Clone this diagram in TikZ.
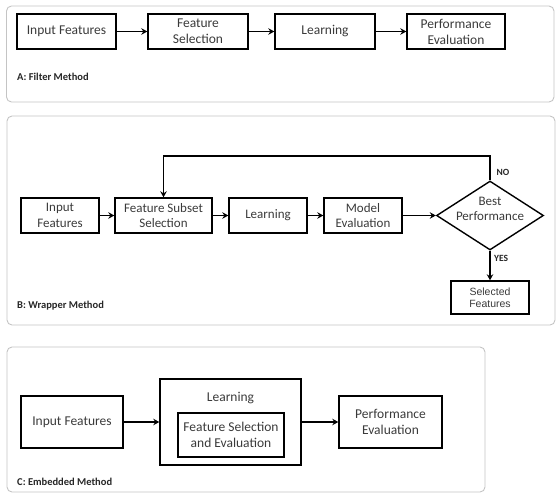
\documentclass[tikz,border=0pt]{standalone}
\usepackage{fontspec}
\setmainfont{Carlito}
\newfontfamily\arialf{Liberation Sans}
\usetikzlibrary{shapes.geometric,arrows.meta}
\definecolor{txt}{HTML}{3A3A3A}
\definecolor{panelc}{HTML}{C4C4C4}
\tikzset{
  panel/.style={draw=panelc,line width=0.9pt,rounded corners=5pt},
  box/.style={draw=black,line width=1.4pt,rectangle,align=center,text=txt,inner sep=0pt,font=\fontsize{13.5}{16}\selectfont},
  boxb/.style={box,font=\fontsize{13}{15.5}\selectfont},
  lab/.style={anchor=west,font=\fontsize{10.5}{12}\selectfont\bfseries,text=black!85,inner sep=0pt},
  yn/.style={anchor=west,font=\fontsize{9.5}{11}\selectfont\bfseries,text=black!85,inner sep=0pt},
  arr/.style={line width=1.4pt,-{Stealth[length=6pt,width=6.5pt,inset=2pt]}},
}
\begin{document}
\begin{tikzpicture}[x=1pt,y=-1pt]
\useasboundingbox (0,0) rectangle (559,501);
% panels
\draw[panel] (6.5,6) rectangle (554,102);
\draw[panel] (7,116) rectangle (555,325);
\draw[panel] (7,347) rectangle (485,492);

% Panel A
\node[box,minimum width=99pt,minimum height=35pt] (a1) at (66.5,31.5) {Input Features};
\node[box,minimum width=100pt,minimum height=35pt] (a2) at (198,31.5) {Feature\\Selection};
\node[box,minimum width=100pt,minimum height=35pt] (a3) at (325,31.5) {Learning};
\node[box,minimum width=98pt,minimum height=35pt] (a4) at (456,31.5) {Performance\\Evaluation};
\draw[arr] (a1) -- (a2);
\draw[arr] (a2) -- (a3);
\draw[arr] (a3) -- (a4);
\node[lab] (la) at (17,77) {A: Filter Method};

% Panel B
\node[boxb,minimum width=78pt,minimum height=35pt] (b1) at (60,215.5) {Input\\Features};
\node[boxb,minimum width=97pt,minimum height=35pt] (b2) at (163.5,215.5) {Feature Subset\\Selection};
\node[boxb,minimum width=78pt,minimum height=35pt] (b3) at (268,215.5) {Learning};
\node[boxb,minimum width=78pt,minimum height=35pt] (b4) at (363,215.5) {Model\\Evaluation};
\node[draw=black,line width=1.4pt,diamond,minimum width=107pt,minimum height=69pt,inner sep=0pt] (b5) at (490,215.5) {};
\node[align=center,text=txt,inner sep=0pt,font=\fontsize{13}{15}\selectfont] (b5t) at (490,208.5) {Best\\Performance};
\node[box,font=\arialf\fontsize{10.5}{12.5}\selectfont,minimum width=78pt,minimum height=33pt] (b6) at (490,297.5) {Selected\\Features};
\draw[arr] (b1) -- (b2);
\draw[arr] (b2) -- (b3);
\draw[arr] (b3) -- (b4);
\draw[arr] (b4) -- (b5);
\draw[arr] (b5) -- (b6);
\coordinate (fbR) at (490,156);
\coordinate (fbL) at (163.5,156);
\draw[arr] (b5.north) -- (fbR) -- (fbL) -- (b2.north);
\node[yn] (no) at (496.5,172) {NO};
\node[yn] (yes) at (494,258) {YES};
\node[lab] (lb) at (17,306) {B: Wrapper Method};

% Panel C
\node[box,minimum width=102pt,minimum height=52pt] (c1) at (72,422) {Input Features};
\node[box,minimum width=141pt,minimum height=86pt] (c2) at (230.5,422) {};
\node[text=txt,font=\fontsize{13.5}{16}\selectfont,inner sep=0pt] (c2t) at (230.5,398) {Learning};
\node[box,minimum width=106pt,minimum height=44pt] (c3) at (231,435) {Feature Selection\\and Evaluation};
\node[box,minimum width=103pt,minimum height=52pt] (c4) at (390.5,422) {Performance\\Evaluation};
\draw[arr] (c1) -- (c2);
\draw[arr] (c2) -- (c4);
\node[lab] (lc) at (17,482) {C: Embedded Method};
\end{tikzpicture}
\end{document}
